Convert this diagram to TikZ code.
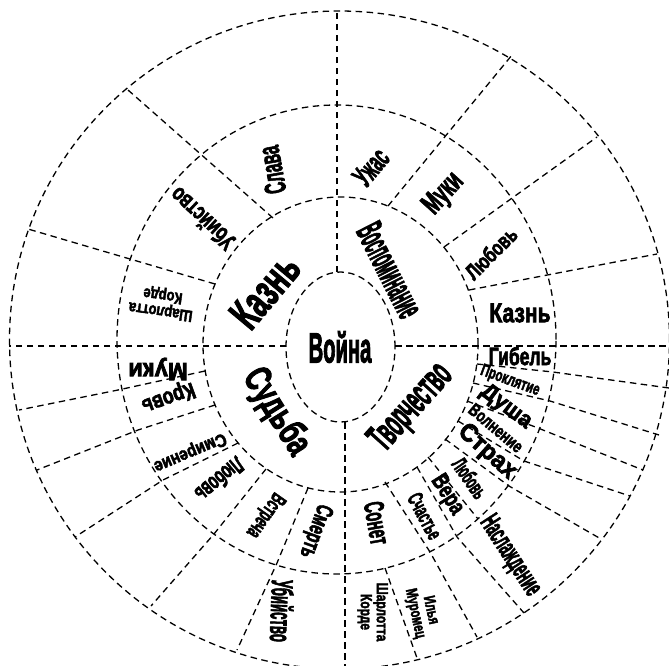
\documentclass[tikz,border=0pt]{standalone}
\usepackage{fontspec}
\setmainfont{Liberation Sans}[BoldFeatures={FakeBold=3}]
\newcommand\lab[7]{\node[lbl, rotate=#4] (#1) at (#2,#3) {\fontsize{#5}{#5}\selectfont\scalebox{#6}[1]{#7}};}
\newcommand\twol[2]{\begin{tabular}{@{}c@{}}#1\\#2\end{tabular}}
\begin{document}
\begin{tikzpicture}[x=1pt,y=-1pt,
  dl/.style={line width=1.3pt, dash pattern=on 6.5pt off 4.5pt},
  lbl/.style={inner sep=0pt, align=center, font=\bfseries}]
\useasboundingbox (0,0) rectangle (669,665);
\fill[white] (0,0) rectangle (669,665);
% rings
\draw[dl] (340.5,347) ellipse [x radius=54.5pt, y radius=75pt];
\draw[dl] (340.5,344.5) ellipse [x radius=137.5pt, y radius=147.5pt];
\draw[dl] (336.5,339.5) ellipse [x radius=219.5pt, y radius=234.5pt];
\draw[dl] (339.5,340) ellipse [x radius=330pt, y radius=329pt];
% main axes
\draw[dl] (337,272) -- (337,11);
\draw[dl] (286,346) -- (9,346);
\draw[dl] (395,346) -- (672,346);
\draw[dl] (345,422) -- (345,672);
% upper dividers
\draw[dl] (273,218) -- (128,90);
\draw[dl] (215,284) -- (28,229);
\draw[dl] (388,206) -- (512,55);
\draw[dl] (444,247) -- (597,137);
\draw[dl] (469,290) -- (657,254);
% lower right dividers
\draw[dl] (477,364) -- (553,372) -- (669,388);
\draw[dl] (473,383) -- (550,401) -- (659,435);
\draw[dl] (467,401) -- (538,428) -- (643,470);
\draw[dl] (458,421) -- (524,461) -- (630,496);
\draw[dl] (445,439) -- (509,486) -- (601,539);
\draw[dl] (428,457) -- (478,519);
\draw[dl] (417,467) -- (457,537) -- (524,613);
\draw[dl] (385,482) -- (430,552) -- (477,637);
\draw[dl] (385,568) -- (417,658);
% lower left dividers
\draw[dl] (308,488) -- (277,563) -- (237,650);
\draw[dl] (266,469) -- (214,534) -- (151,606);
\draw[dl] (238,443) -- (163,480) -- (75,537);
\draw[dl] (215,405) -- (138,430) -- (37,470);
\draw[dl] (205,371) -- (118,390) -- (19,410);
% centre and ring 1
\lab{voyna}{340}{347}{0}{42}{0.48}{Война}
\lab{kazn1}{265}{291}{50}{45}{0.62}{Казнь}
\lab{vosp}{390}{270}{-63}{38}{0.36}{Воспоминание}
\lab{tvor}{412}{408}{48}{40}{0.45}{Творчество}
\lab{sudba}{276}{412}{-58}{38}{0.68}{Судьба}
% ring 2 upper left
\lab{slava}{272}{170}{100}{30}{0.52}{Слава}
\lab{ubiy1}{202}{219}{137}{24}{0.7}{Убийство}
\lab{sharl1}{162}{302}{172}{16}{0.82}{\twol{Шарлотта}{Корде}}
% ring 2 upper right
\lab{uzhas}{371}{167}{50}{30}{0.52}{Ужас}
\lab{muki1}{444}{194}{48}{30}{0.6}{Муки}
\lab{lyub1}{491}{253}{45}{22}{0.72}{Любовь}
\lab{kazn2}{520}{313}{0}{27}{0.78}{Казнь}
% ring 2 lower right
\lab{gibel}{520}{356}{0}{25}{0.7}{Гибель}
\lab{prokl}{510}{381}{-20}{17}{0.68}{Проклятие}
\lab{dusha}{506}{407}{-37}{23}{0.95}{Душа}
\lab{voln}{496}{428}{-40}{18}{0.74}{Волнение}
\lab{strah}{487}{452}{-42}{25}{0.95}{Страх}
\lab{lyub2}{470}{478}{-55}{22}{0.5}{Любовь}
\lab{vera}{447}{495}{-58}{24}{0.72}{Вера}
\lab{schast}{425}{516}{-62}{22}{0.55}{Счастье}
\lab{sonet}{377}{523}{-80}{28}{0.52}{Сонет}
% ring 3
\lab{naslazh}{510}{556}{-57}{28}{0.48}{Наслаждение}
\lab{ilya}{422}{612}{-78}{16}{0.7}{\twol{Илья}{Муромец}}
\lab{sharl2}{372}{612}{-90}{16}{0.75}{\twol{Шарлотта}{Корде}}
\lab{ubiy2}{282}{611}{-92}{30}{0.44}{Убийство}
% ring 2 lower left
\lab{smert}{315}{531}{-110}{24}{0.62}{Смерть}
\lab{vstr}{265}{515}{-125}{22}{0.56}{Встреча}
\lab{lyub3}{220}{480}{-140}{24}{0.58}{Любовь}
\lab{smir}{190}{452}{-157}{18}{0.85}{Смирение}
\lab{krov}{168}{397}{-160}{23}{0.78}{Кровь}
\lab{muki2}{158}{369}{180}{25}{0.95}{Муки}
\end{tikzpicture}
\end{document}
